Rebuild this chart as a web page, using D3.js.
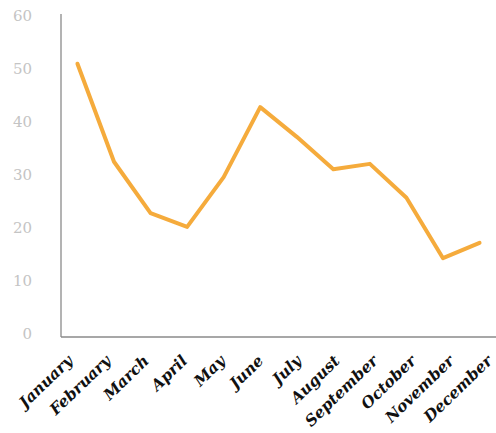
<!DOCTYPE html>
<html>
<head>
<meta charset="utf-8">
<script src="https://cdn.jsdelivr.net/npm/d3@7"></script>
<style>
  html, body { margin: 0; padding: 0; background: #fff; }
  svg { display: block; }
</style>
</head>
<body>
<svg id="chart" width="496" height="433"></svg>
<script>
// Monthly values
const months = ["January", "February", "March", "April", "May", "June",
                "July", "August", "September", "October", "November", "December"];
const values = [51, 32.5, 22.8, 20.2, 29.6, 42.8, 37.2, 31.1, 32.1, 25.7, 14.3, 17.2];
const yTicks = [0, 10, 20, 30, 40, 50, 60];

(function draw() {
  const svg = d3.select("#chart");
  const plotLeft = 61, plotRight = 496, plotTop = 16, plotBottom = 334;

  const x = d3.scalePoint().domain(months).range([plotLeft, plotRight]).padding(0.45);
  // month names sit on a slightly wider spacing than the data points
  const xLabel = d3.scalePoint().domain(months).range([58, 512]).padding(0.45);
  const y = d3.scaleLinear().domain([0, 60]).range([plotBottom, plotTop]);

  // Axis lines
  svg.append("line")
    .attr("x1", plotLeft).attr("x2", plotLeft)
    .attr("y1", plotTop - 2).attr("y2", plotBottom + 3)
    .attr("stroke", "#8a8a8a").attr("stroke-width", 1.3);
  svg.append("line")
    .attr("x1", plotLeft).attr("x2", plotRight)
    .attr("y1", plotBottom + 3).attr("y2", plotBottom + 3)
    .attr("stroke", "#8a8a8a").attr("stroke-width", 1.3);

  // Y tick labels
  const yAxis = d3.axisLeft(y).tickValues(yTicks).tickSize(0).tickPadding(29);
  const gy = svg.append("g").attr("transform", `translate(${plotLeft},0)`).call(yAxis);
  gy.select(".domain").remove();
  gy.selectAll("text")
    .attr("fill", "#c4c4c4")
    .style("font-family", "'DejaVu Serif', serif")
    .style("font-size", "15px");

  // X tick labels
  const xAxis = d3.axisBottom(xLabel).tickSize(0).tickPadding(0);
  const gx = svg.append("g").attr("transform", `translate(0,${plotBottom})`).call(xAxis);
  gx.select(".domain").remove();
  gx.selectAll("text")
    .attr("fill", "#111")
    .attr("text-anchor", "end")
    .attr("dy", 0)
    .attr("transform", "translate(-2,28) rotate(-44)")
    .style("font-family", "'DejaVu Serif', serif")
    .style("font-weight", "bold")
    .style("font-style", "italic")
    .style("font-size", "15.5px");

  // Line
  const line = d3.line().x((d, i) => x(months[i])).y(d => y(d));
  svg.append("path")
    .datum(values)
    .attr("d", line)
    .attr("fill", "none")
    .attr("stroke", "#f5ab3c")
    .attr("stroke-width", 4)
    .attr("stroke-linejoin", "round")
    .attr("stroke-linecap", "round");
})();
</script>
</body>
</html>
